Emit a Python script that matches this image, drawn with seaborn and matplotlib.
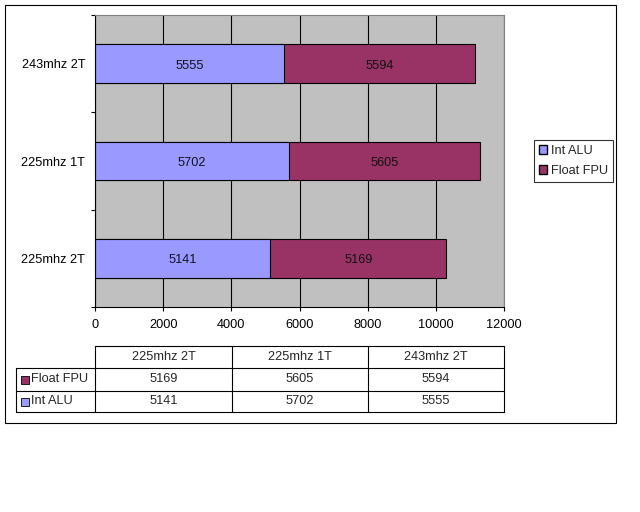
import pandas as pd
import matplotlib.pyplot as plt
import seaborn as sns
from matplotlib.patches import Patch, Rectangle

# data
configs = ["225mhz 2T", "225mhz 1T", "243mhz 2T"]
int_alu = [5141, 5702, 5555]
float_fpu = [5169, 5605, 5594]

ALU_COLOR = "#9999FF"
FPU_COLOR = "#993366"
FS = 9.2

sns.set_theme(style="white")
plt.rcParams["font.family"] = ["Liberation Sans", "DejaVu Sans"]

df = pd.DataFrame({"config": configs, "Int ALU": int_alu, "Float FPU": float_fpu})
df["total"] = df["Int ALU"] + df["Float FPU"]
order = configs[::-1]

fig = plt.figure(figsize=(6.4, 5.12), dpi=100)
ax = fig.add_axes([95 / 640, 1 - 307 / 512, (504 - 95) / 640, (307 - 15) / 512])
ax.set_facecolor("#C0C0C0")
ax.set_axisbelow(True)

# stacked bars: total (Float on top of Int) then Int ALU over it
sns.barplot(data=df, y="config", x="total", order=order, color=FPU_COLOR,
            saturation=1, width=0.4, edgecolor="black", linewidth=0.8,
            errorbar=None, ax=ax)
sns.barplot(data=df, y="config", x="Int ALU", order=order, color=ALU_COLOR,
            saturation=1, width=0.4, edgecolor="black", linewidth=0.8,
            errorbar=None, ax=ax)

for _, row in df.iterrows():
    pos = order.index(row["config"])
    ax.text(row["Int ALU"] / 2, pos + 0.02, str(row["Int ALU"]), ha="center",
            va="center", fontsize=FS, color="#111122")
    ax.text(row["Int ALU"] + row["Float FPU"] / 2, pos + 0.02, str(row["Float FPU"]),
            ha="center", va="center", fontsize=FS, color="#111111")

ax.set_xlim(0, 12000)
ax.set_ylim(2.5, -0.5)
ax.set_xticks(range(0, 12001, 2000))
ax.set_xticklabels([str(v) for v in range(0, 12001, 2000)])
ax.set_yticks([-0.5, 0.5, 1.5, 2.5])
ax.set_yticklabels([])
ax.set_yticks([0, 1, 2], minor=True)
ax.set_yticklabels(order, minor=True)
ax.set_xlabel("")
ax.set_ylabel("")
ax.xaxis.grid(True, color="black", linewidth=0.8)
ax.yaxis.grid(False)
ax.tick_params(axis="both", which="major", direction="out", length=3,
               width=0.8, color="black", bottom=True, left=True,
               labelsize=FS, labelcolor="black")
ax.tick_params(axis="x", pad=6)
ax.tick_params(axis="y", which="minor", length=0, pad=7, left=True,
               labelsize=FS, labelcolor="black")
for side in ["left", "bottom"]:
    ax.spines[side].set_color("black")
    ax.spines[side].set_linewidth(0.8)
for side in ["top", "right"]:
    ax.spines[side].set_color("#808080")
    ax.spines[side].set_linewidth(0.8)

# legend
handles = [Patch(facecolor=ALU_COLOR, edgecolor="black", label="Int ALU"),
           Patch(facecolor=FPU_COLOR, edgecolor="black", label="Float FPU")]
leg = fig.legend(handles=handles, loc="upper left",
                 bbox_to_anchor=(534 / 640, 1 - 140 / 512), frameon=True,
                 fancybox=False, edgecolor="black", fontsize=FS,
                 handlelength=0.65, handleheight=0.65, handletextpad=0.3,
                 borderpad=0.4, labelspacing=0.6, borderaxespad=0)
leg.get_frame().set_linewidth(0.8)

# overlay for data table and chart border
ov = fig.add_axes([0, 0, 1, 1])
ov.set_xlim(0, 640)
ov.set_ylim(512, 0)
ov.axis("off")
ov.patch.set_alpha(0)

lw = 0.8
ov.add_patch(Rectangle((5, 5), 611, 418, fill=False, edgecolor="black", linewidth=lw))

col_edges = [95, 232, 368, 504]
row_edges = [346, 368, 391, 412]
lab_left = 16
ov.plot([col_edges[0], col_edges[-1]], [row_edges[0]] * 2, color="black", lw=lw)
for y in row_edges[1:]:
    ov.plot([lab_left, col_edges[-1]], [y, y], color="black", lw=lw)
for x in col_edges:
    ov.plot([x, x], [row_edges[0], row_edges[-1]], color="black", lw=lw)
ov.plot([lab_left, lab_left], [row_edges[1], row_edges[-1]], color="black", lw=lw)

for i, name in enumerate(configs):
    xc = (col_edges[i] + col_edges[i + 1]) / 2
    ov.text(xc, (row_edges[0] + row_edges[1]) / 2, name, ha="center",
            va="center", fontsize=FS)

table_rows = [("Float FPU", float_fpu, FPU_COLOR), ("Int ALU", int_alu, ALU_COLOR)]
for r, (label, vals, colr) in enumerate(table_rows):
    yc = (row_edges[r + 1] + row_edges[r + 2]) / 2
    ov.add_patch(Rectangle((20.5, yc - 4), 8, 8, facecolor=colr,
                           edgecolor="black", linewidth=0.6))
    ov.text(31, yc, label, ha="left", va="center", fontsize=FS)
    for i, v in enumerate(vals):
        xc = (col_edges[i] + col_edges[i + 1]) / 2
        ov.text(xc, yc, str(v), ha="center", va="center", fontsize=FS)

fig.savefig("out.png", dpi=100)
